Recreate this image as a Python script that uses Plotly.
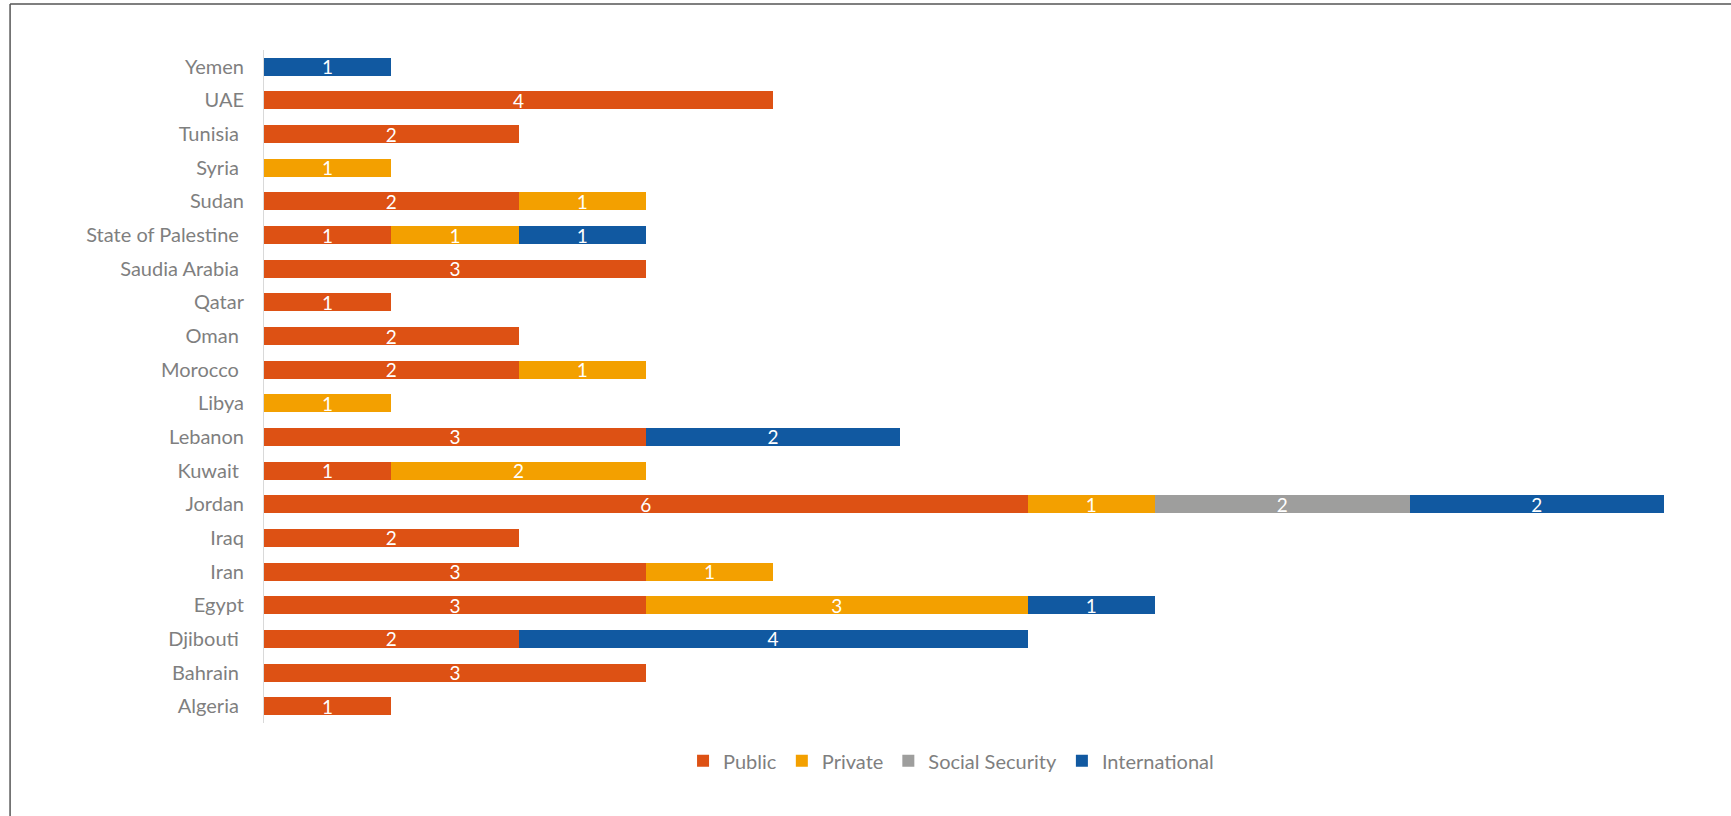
import plotly.graph_objects as go

countries = ["Algeria\u00a0", "Bahrain\u00a0", "Djibouti\u00a0", "Egypt", "Iran", "Iraq", "Jordan",
             "Kuwait\u00a0", "Lebanon", "Libya", "Morocco\u00a0", "Oman\u00a0", "Qatar",
             "Saudia Arabia\u00a0", "State of Palestine\u00a0", "Sudan", "Syria\u00a0",
             "Tunisia\u00a0", "UAE", "Yemen"]

public =        [1, 3, 2, 3, 3, 2, 6, 1, 3, None, 2, 2, 1, 3, 1, 2, None, 2, 4, None]
private =       [None, None, None, 3, 1, None, 1, 2, None, 1, 1, None, None, None, 1, 1, 1, None, None, None]
social_sec =    [None, None, None, None, None, None, 2, None, None, None, None, None, None, None, None, None, None, None, None, None]
international = [None, None, 4, 1, None, None, 2, None, 2, None, None, None, None, None, 1, None, None, None, None, 1]

series = [
    ("Public", public, "#DD5114"),
    ("Private", private, "#F3A000"),
    ("Social Security", social_sec, "#9E9E9D"),
    ("International", international, "#1159A1"),
]

FONT = "Lato, 'Open Sans', sans-serif"
GRAY = "#7F7F7F"

fig = go.Figure()
for name, vals, color in series:
    fig.add_trace(go.Bar(
        y=countries, x=vals, name=name, orientation="h",
        marker=dict(color=color, line=dict(width=0)),
        text=vals, texttemplate="%{x}", textposition="inside",
        insidetextanchor="middle", textangle=0, constraintext="none",
        textfont=dict(color="white", size=19, family=FONT),
        hoverinfo="x+y+name",
    ))

fig.update_layout(
    width=1731, height=816,
    barmode="stack", bargap=0.465,
    paper_bgcolor="white", plot_bgcolor="white",
    margin=dict(l=264, r=16, t=50, b=93),
    font=dict(family=FONT, color=GRAY, size=20),
    xaxis=dict(range=[0, 11.4], showgrid=False, showticklabels=False, zeroline=False,
               showline=False, ticks=""),
    yaxis=dict(categoryorder="array", categoryarray=countries, range=[-0.5, 19.5],
               showline=True, linecolor="#D9D9D9", linewidth=1, showgrid=False,
               ticks="", ticklabelstandoff=15, tickfont=dict(size=20, color=GRAY)),
    legend=dict(orientation="h", x=0.4735, xanchor="center", y=-0.056, yanchor="middle",
                font=dict(size=20, color=GRAY), itemwidth=30, traceorder="normal"),
    showlegend=True,
    shapes=[
        dict(type="line", xref="paper", yref="paper", x0=-0.175, x1=1.2, y0=1.0684, y1=1.0684,
             line=dict(color="#555555", width=1.5)),
        dict(type="line", xref="paper", yref="paper", x0=-0.175, x1=-0.175, y0=1.0684, y1=-0.2,
             line=dict(color="#555555", width=1.5)),
    ],
)

fig.write_html("out.html", config={"displayModeBar": False},
               post_script="document.body.style.margin='0';")
